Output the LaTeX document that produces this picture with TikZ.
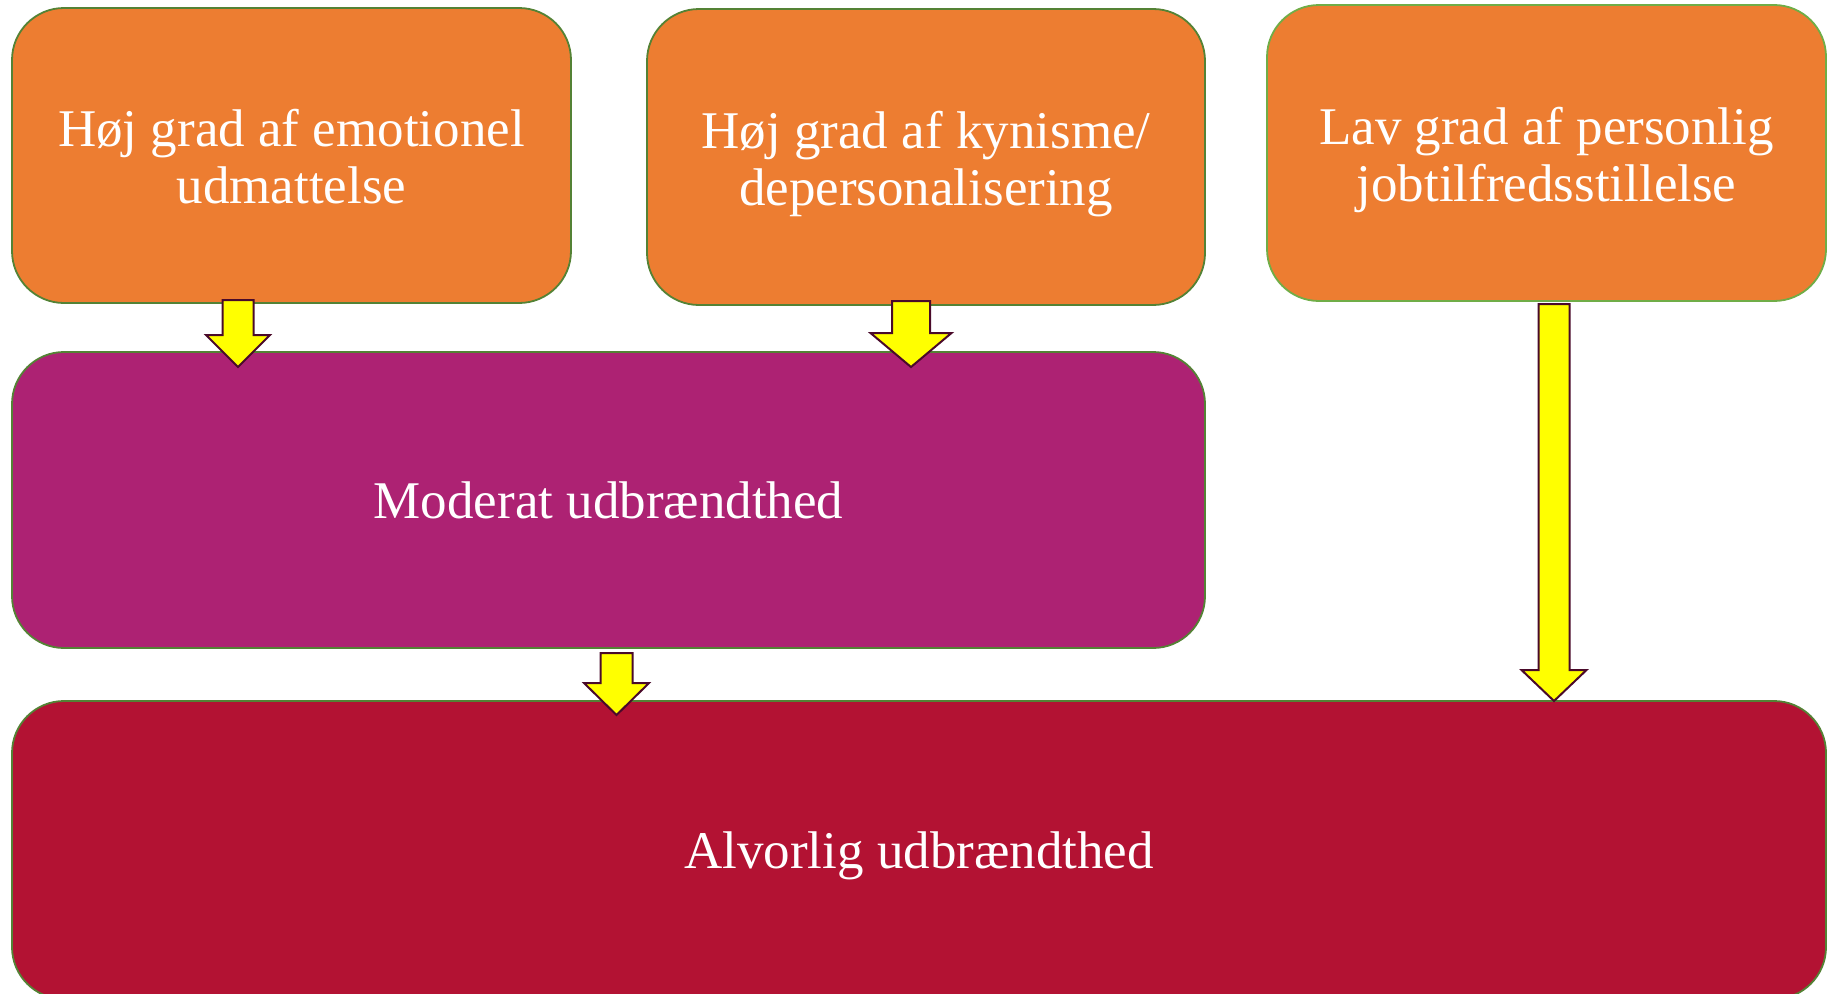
\documentclass[tikz,border=0pt]{standalone}
\usepackage{fontspec}
\setmainfont{Liberation Serif}
\definecolor{boxorange}{HTML}{ED7D31}
\definecolor{boxpurple}{HTML}{AD2273}
\definecolor{boxred}{HTML}{B31233}
\definecolor{boxedge}{HTML}{548235}
\definecolor{boxedgelight}{HTML}{70AD47}
\definecolor{arrowedge}{HTML}{4A0A2A}
\definecolor{arrowfill}{HTML}{FFFF00}
\newcommand{\fixtop}{\rule{0pt}{52pt}}
\newcommand{\fixbot}{\rule[-13pt]{0pt}{13pt}}
\newcommand{\fatarrow}[7]{% name, cx, top, headbase, tip, shafthalf, headhalf
  \draw[fatarr] (#2-#6,#3) -- (#2+#6,#3) -- (#2+#6,#4) -- (#2+#7,#4) -- (#2,#5) -- (#2-#7,#4) -- (#2-#6,#4) -- cycle;
  \coordinate (#1) at (#2,#5);}
\begin{document}
\begin{tikzpicture}[x=1pt,y=-1pt,
  box/.style={draw=boxedge, line width=1.8pt, rounded corners=52pt, text=white, align=center,
    font=\fontsize{53}{57}\selectfont, inner sep=0pt},
  oneline/.style={text height=47pt, text depth=11pt},
  fatarr/.style={draw=arrowedge, fill=arrowfill, line width=2pt, line join=miter}]
\useasboundingbox (0,0) rectangle (1835,993);
\node[box, fill=boxorange, minimum width=559pt, minimum height=295pt] (emo) at (291.5,155.5)
  {\fixtop Høj grad af emotionel\\udmattelse\fixbot};
\node[box, fill=boxorange, minimum width=558pt, minimum height=296pt] (kyn) at (926,157)
  {\fixtop Høj grad af kynisme/\\depersonalisering\fixbot};
\node[box, fill=boxorange, minimum width=559pt, minimum height=296pt, draw=boxedgelight] (lav) at (1546.5,153)
  {\fixtop Lav grad af personlig\\jobtilfredsstillelse\fixbot};
\node[box, oneline, fill=boxpurple, minimum width=1193pt, minimum height=296pt] (mod) at (608.5,500)
  {Moderat udbrændthed};
\node[box, oneline, fill=boxred, minimum width=1814pt, minimum height=298pt] (alv) at (919,850)
  {Alvorlig udbrændthed};
\fatarrow{a1}{238}{300}{335}{367}{15.5}{32}
\fatarrow{a2}{911}{301}{333}{367}{19}{40.5}
\fatarrow{a3}{616.5}{653}{683}{715}{16}{32.5}
\fatarrow{a4}{1554}{304}{670}{701}{15.5}{32.5}
\end{tikzpicture}
\end{document}
